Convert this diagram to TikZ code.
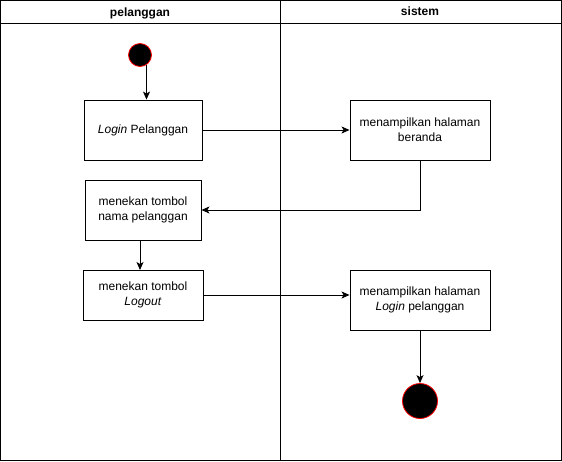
\documentclass[tikz,border=0pt]{standalone}
\usepackage{fontspec}
\setmainfont{Liberation Sans}
\usetikzlibrary{arrows.meta}
\begin{document}
\begin{tikzpicture}[x=1pt,y=-1pt,
  act/.style={draw=black,line width=0.9pt,fill=white,align=center,font=\fontsize{12}{15}\selectfont,inner sep=0pt},
  flow/.style={line width=0.9pt,-{Stealth[length=8pt,width=7pt,inset=2pt]}},
  lanehead/.style={font=\bfseries\fontsize{12}{14}\selectfont},
  frame/.style={draw=black,line width=0.9pt}]
\useasboundingbox (0,0) rectangle (562,461);
\fill[white] (0,0) rectangle (562,461);
% swimlanes
\draw[frame] (0.5,0.5) rectangle (561.5,460.5);
\draw[frame] (0.5,23) -- (561.5,23);
\draw[frame] (280,0.5) -- (280,460.5);
\node[lanehead] (h1) at (140,13) {pelanggan};
\node[lanehead] (h2) at (420,11) {sistem};
% nodes
\node[circle,fill=black,draw=red,line width=0.8pt,minimum size=23pt,inner sep=0pt] (start) at (140,55) {};
\node[act,minimum width=118pt,minimum height=60pt] (b1) at (143,130) {\textit{Login} Pelanggan};
\node[act,minimum width=140pt,minimum height=60pt] (b2) at (420,130) {menampilkan halaman\\beranda};
\node[act,minimum width=116pt,minimum height=60pt] (b3) at (143,210) {menekan tombol\\nama pelanggan};
\node[act,minimum width=120pt,minimum height=50pt] (b4) at (143,295) {menekan tombol\\\textit{Logout}};
\node[act,minimum width=140pt,minimum height=60pt] (b5) at (420,300) {menampilkan halaman\\\textit{Login} pelanggan};
\node[circle,fill=black,draw=red,line width=0.8pt,minimum size=35pt,inner sep=0pt] (end) at (420,401) {};
% connectors
\coordinate (s1) at (146.5,65);
\draw[flow] (s1) -- (s1 |- b1.north);
\draw[flow] (b1.east) -- (b1.east -| b2.west);
\draw[flow] (b2.south) |- (b3.east);
\draw[flow] (b3.south -| 140,0) -- (140,270);
\draw[flow] (b4.east) -- (b4.east -| b5.west);
\draw[flow] (b5.south) -- (end.north);
\end{tikzpicture}
\end{document}
